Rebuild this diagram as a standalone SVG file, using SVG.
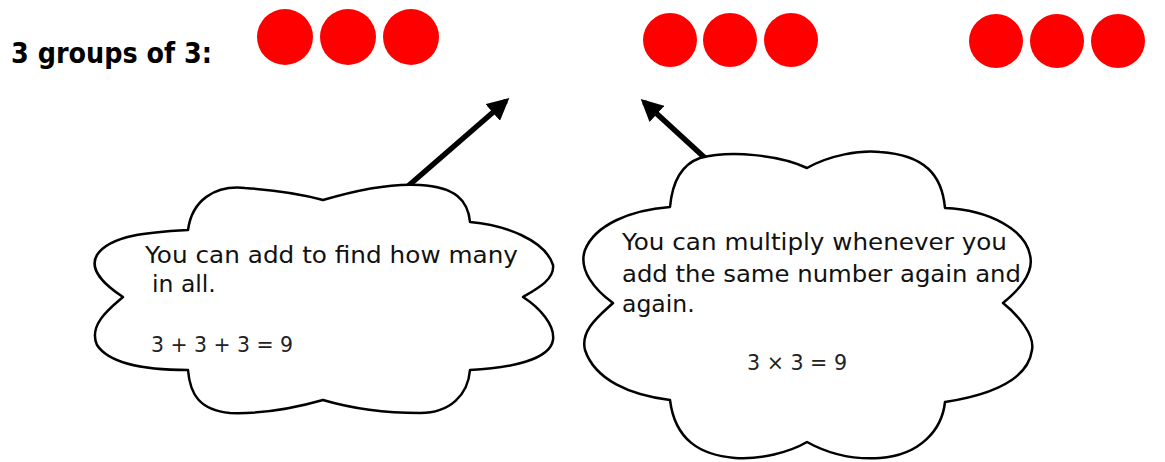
<svg xmlns="http://www.w3.org/2000/svg" width="1165" height="462" viewBox="0 0 1165 462">
<style>
.dot{fill:#fe0000}
.cloud{fill:#fff;stroke:#000;stroke-width:2.5;stroke-linejoin:round}
.t{font-family:"DejaVu Sans",Verdana,sans-serif;font-size:23.5px;fill:#111}
.m{font-family:"DejaVu Sans",Verdana,sans-serif;font-size:22px;fill:#222}
.title{font-family:"DejaVu Sans","Liberation Sans",sans-serif;font-size:28px;font-weight:bold;fill:#000}
.arrow{stroke:#000;stroke-width:5.5;fill:none;marker-end:url(#ah)}
</style>
<defs>
<marker id="ah" viewBox="0 0 10 10" refX="8" refY="5" markerWidth="4" markerHeight="4" orient="auto" markerUnits="strokeWidth">
<path d="M0,0 L10,5 L0,10 z" fill="#000"/>
</marker>
</defs>
<rect width="1165" height="462" fill="#fff"/>
<g id="title"><text class="title" x="11" y="63" textLength="201" lengthAdjust="spacingAndGlyphs">3 groups of 3:</text></g>
<g id="group1">
<circle class="dot" cx="285" cy="37" r="28"/>
<circle class="dot" cx="348" cy="37" r="28"/>
<circle class="dot" cx="411" cy="37" r="28"/>
</g>
<g id="group2">
<circle class="dot" cx="670" cy="40" r="27"/>
<circle class="dot" cx="730" cy="40" r="27"/>
<circle class="dot" cx="791" cy="40" r="27"/>
</g>
<g id="group3">
<circle class="dot" cx="996" cy="41" r="27"/>
<circle class="dot" cx="1057" cy="41" r="27"/>
<circle class="dot" cx="1118" cy="41" r="27"/>
</g>
<g id="connectors">
<line class="arrow" x1="407" y1="187" x2="506" y2="101"/>
<line class="arrow" x1="705" y1="158" x2="644" y2="102"/>
</g>
<g id="cloud-add">
<path class="cloud" d="M188,230 C192,200 215,185 245,188 C275,190 305,195 323,200 C350,192 390,183 420,185 C455,187 468,200 470,222 C505,225 545,240 553,265 C555,280 535,290 523,297 C540,308 555,325 553,340 C550,360 510,368 470,370 C468,395 450,413 420,413 C385,413 350,408 323,400 C295,408 260,414 230,413 C200,410 190,395 188,370 C150,370 110,365 97,345 C88,325 110,308 123,297 C105,285 88,270 97,255 C110,235 150,232 188,230 Z"/>
<text class="t" x="145" y="263" textLength="373" lengthAdjust="spacingAndGlyphs">You can add to find how many</text>
<text class="t" x="152" y="292">in all.</text>
<text class="m" x="151" y="352" textLength="142" lengthAdjust="spacingAndGlyphs">3 + 3 + 3 = 9</text>
</g>
<g id="cloud-multiply">
<path class="cloud" d="M670,207 C672,185 680,165 700,158 C730,150 780,155 807,168 C830,155 860,150 880,152 C925,155 942,175 945,208 C990,210 1025,230 1030,255 C1035,275 1015,293 1003,303 C1018,315 1035,335 1032,350 C1028,380 990,395 945,402 C942,430 920,455 880,458 C850,460 825,452 807,442 C790,452 760,460 735,458 C700,455 675,440 670,400 C630,395 595,380 585,350 C580,330 600,315 613,303 C595,290 578,270 585,250 C595,225 630,210 670,207 Z"/>
<text class="t" x="622" y="250" textLength="385" lengthAdjust="spacingAndGlyphs">You can multiply whenever you</text>
<text class="t" x="622" y="282" textLength="399" lengthAdjust="spacingAndGlyphs">add the same number again and</text>
<text class="t" x="622" y="312">again.</text>
<text class="m" x="747" y="370" textLength="100" lengthAdjust="spacingAndGlyphs">3 × 3 = 9</text>
</g>
</svg>
